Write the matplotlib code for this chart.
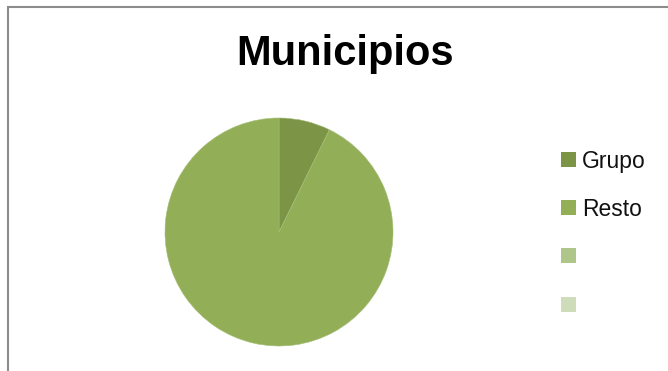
import matplotlib
matplotlib.use("Agg")
import matplotlib.pyplot as plt
from matplotlib.patches import Rectangle

categories = ["Grupo", "Resto", "", ""]
values = [7.3, 92.7]
colors = ["#7B9445", "#92AE56", "#AFC68A", "#CEDCB9"]

W, H = 668, 371
fig = plt.figure(figsize=(W / 100, H / 100), dpi=100)
fig.patch.set_facecolor("white")

# chart-area frame
fig.add_artist(Rectangle((7.5 / W, -0.05), 1.0, (H - 6.5) / H + 0.05,
                         transform=fig.transFigure, fill=False,
                         edgecolor="#8C8C8C", linewidth=1.5))

fig.text(345 / W, 1 - 65 / H, "Municipios", ha="center", va="baseline",
         fontsize=30, fontweight="bold", family="Liberation Sans")

cx, cy, r = 279, 232, 114
ax = fig.add_axes([(cx - r) / W, 1 - (cy + r) / H, 2 * r / W, 2 * r / H])
ax.pie(values, colors=colors[:2], startangle=90, counterclock=False,
       wedgeprops=dict(linewidth=0.4, edgecolor="#A6BE78"))
ax.set_aspect("auto")
ax.set_xlim(-1, 1)
ax.set_ylim(-1, 1)
ax.axis("off")

# legend
for i, (lab, col) in enumerate(zip(categories, colors)):
    y = 159.5 + 48.2 * i
    fig.add_artist(Rectangle((561 / W, 1 - (y + 7.5) / H), 15 / W, 15 / H,
                             transform=fig.transFigure, facecolor=col, edgecolor="none"))
    if lab:
        fig.text(582 / W, 1 - (y + 8) / H, lab, ha="left", va="baseline",
                 fontsize=16.5, family="Liberation Sans", color="#111111")

fig.savefig("out.png", dpi=100)
